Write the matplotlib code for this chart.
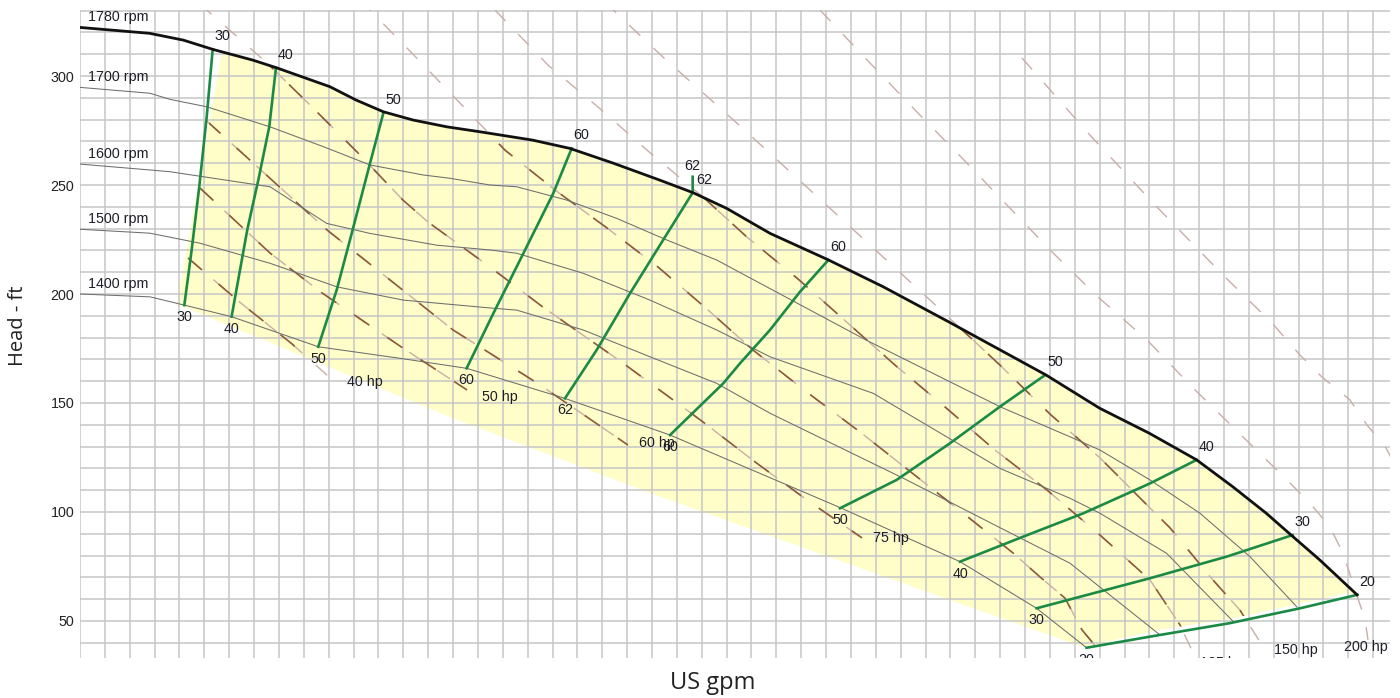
import numpy as np
import matplotlib
matplotlib.use("Agg")
import matplotlib.pyplot as plt
from matplotlib.patches import Polygon

# ---------------- data (US gpm, ft) ----------------
# impeller speed curves
q1780 = [0, 56, 83, 107, 139, 158, 201, 222, 244, 268, 295, 322, 364, 394, 429, 466, 493,
         520, 555, 602, 646, 700, 777, 820, 860, 898, 927, 954, 974, 997, 1027]
h1780 = [322.3, 319.6, 316.5, 312.2, 307.3, 303.8, 295.1, 289.0, 283.6, 279.8, 276.7, 274.4,
         270.6, 266.8, 260.0, 252.3, 246.5, 239.3, 227.8, 215.6, 203.3, 186.8, 162.8, 147.6,
         136.1, 123.9, 111.6, 99.4, 89.4, 78.0, 62.0]
q1700 = [0, 56.3, 72.4, 101.9, 152.8, 195.7, 233.2, 276.1, 297.5, 329.7, 351.2, 391.4, 431.6,
         471.8, 512.0, 552.2, 632.1, 739.8, 796.1, 820.3, 860.5, 900.7, 940.9, 978.7]
h1700 = [294.8, 292.1, 289.3, 285.9, 276.7, 267.6, 259.2, 254.6, 253.1, 250.0, 249.2, 243.1,
         234.7, 224.8, 215.6, 203.3, 178.9, 148.3, 134.5, 128.4, 114.7, 99.4, 79.5, 56.4]
q1600 = [0, 56.3, 72.4, 152.8, 198.4, 233.2, 286.9, 329.7, 351.2, 404.7, 458.4, 512.0, 554.9,
         638.0, 739.8, 796.1, 820.3, 873.9, 927.5]
h1600 = [259.6, 256.9, 256.1, 249.2, 232.4, 227.8, 222.4, 220.2, 218.7, 209.5, 197.2, 183.5,
         171.2, 154.4, 120.0, 106.3, 99.4, 81.0, 49.7]
q1500 = [0, 56.3, 96.5, 152.8, 206.4, 260.0, 329.7, 351.2, 404.7, 458.4, 512.0, 554.9, 664.8,
         739.8, 796.1, 868.5]
h1500 = [229.7, 227.9, 223.3, 214.1, 203.3, 197.2, 193.6, 192.6, 183.5, 171.2, 159.0, 145.3,
         114.7, 92.8, 76.5, 43.6]
q1400 = [0, 56.3, 83.9, 121.9, 191.6, 257.3, 311.0, 390.0, 474.5, 612.5, 707.7, 769.3, 809.5]
h1400 = [200.0, 198.7, 194.9, 189.6, 175.8, 170.5, 165.9, 152.1, 135.3, 101.7, 77.2, 55.8, 37.7]
speed_labels = ["1780 rpm", "1700 rpm", "1600 rpm", "1500 rpm", "1400 rpm"]

# iso-efficiency lines (%), listed from the top speed curve downwards
eff_labels = ["30", "40", "50", "60", "62", "60", "50", "40", "30", "20"]
eff_q = [
    [106.7, 101.9, 95.9, 89.8, 83.9],
    [157.6, 152.2, 143.4, 134.5, 121.9],
    [243.9, 233.2, 218.5, 206.4, 191.6],
    [395.4, 380.6, 355.2, 332.4, 310.9],
    [492.7, 492.7, 469.0, 442.3, 415.5, 390.0],
    [601.8, 579.0, 554.9, 530.8, 517.3, 474.5],
    [776.1, 739.8, 699.6, 656.7, 611.2],
    [898.0, 860.5, 806.9, 758.6, 707.7],
    [975.2, 922.1, 860.5, 769.3],
    [1027.2, 981.1, 924.8, 860.5, 809.5],
]
eff_h = [
    [312.2, 281.3, 249.2, 220.2, 194.9],
    [303.8, 276.7, 252.3, 229.4, 189.6],
    [282.9, 259.9, 227.8, 201.8, 175.8],
    [266.8, 246.2, 217.1, 191.1, 165.9],
    [253.8, 246.5, 224.8, 200.3, 174.3, 152.1],
    [215.6, 201.0, 183.5, 168.2, 159.0, 135.3],
    [162.8, 148.3, 131.5, 114.7, 101.7],
    [123.9, 113.1, 99.4, 88.7, 77.2],
    [89.4, 79.5, 69.6, 55.8],
    [62.0, 55.8, 49.0, 42.8, 37.7],
]

# iso-power lines (hp)
hp_labels = ["40 hp", "50 hp", "60 hp", "75 hp", "100 hp", "125 hp", "150 hp", "200 hp", "250 hp"]
hp_q = [
    [86.9, 130.3, 170.5, 199.4],
    [96.5, 152.8, 194.6, 259.7, 311.2],
    [102.1, 198.6, 300.0, 367.5, 440.7],
    [96.5, 150.4, 186.6, 223.6, 259.7, 279.9, 329.7, 372.3, 436.7, 501.0, 542.8, 584.6, 628.9],
    [225.2, 267.0, 303.2, 341.8, 382.0, 423.8, 464.8, 505.0, 541.2, 585.4, 627.3, 669.1, 710.1,
     750.3, 772.0, 792.1, 805.8, 825.9],
    [333.7, 376.4, 416.6, 456.0, 501.0, 536.4, 576.6, 596.7, 655.4, 695.6, 735.8, 777.6, 820.3,
     860.5, 884.6, 896.7],
    [422.2, 468.8, 528.3, 585.4, 645.8, 683.6, 739.8, 780.1, 820.3, 856.5, 876.6, 911.1, 932.8,
     950.5],
    [595.1, 635.3, 673.1, 709.3, 745.5, 781.7, 818.7, 858.1, 895.1, 970.6, 989.1, 1005.2,
     1015.6, 1023.7, 1033.4, 1035.8],
    [757.5, 812.2, 866.1, 920.8, 958.6, 981.1, 998.8, 1021.3, 1035.0, 1050.3, 1061.5],
]
hp_h = [
    [216.5, 195.4, 177.1, 162.4],
    [248.6, 218.8, 200.5, 175.2, 156.0],
    [279.3, 229.4, 183.5, 159.2, 130.7],
    [333.0, 306.0, 285.8, 264.7, 243.1, 233.0, 212.4, 194.0, 168.3, 141.3, 123.0, 105.5, 88.1],
    [334.9, 310.5, 289.0, 266.0, 247.7, 230.3, 212.4, 192.7, 174.3, 154.6, 136.7, 117.9, 99.5,
     81.2, 70.2, 60.5, 45.9, 32.1],
    [330.3, 305.0, 285.8, 266.0, 244.5, 226.1, 207.3, 197.2, 167.4, 148.2, 128.4, 110.1, 89.4,
     68.8, 48.2, 33.5],
    [333.9, 308.7, 278.4, 248.6, 217.0, 197.2, 167.4, 144.9, 124.8, 104.1, 92.7, 68.8, 55.0,
     39.0],
    [330.3, 306.0, 283.5, 262.4, 240.8, 219.3, 198.6, 178.9, 156.9, 114.7, 104.1, 93.1, 81.2,
     67.4, 50.5, 41.3],
    [308.3, 272.9, 239.9, 207.8, 186.7, 172.0, 161.9, 151.4, 139.9, 129.4, 117.0],
]

# shaded operating region: upper-left corner, then lower boundary (right to left)
region_corner = (114.2, 311.5)
region_low_q = [1018.6, 927.5, 868.5, 806.6, 699.6, 458.4, 297.5, 78.0]
region_low_h = [62.7, 51.2, 45.9, 38.1, 59.6, 108.7, 143.6, 195.4]

y_ticks = [50, 100, 150, 200, 250, 300]

# ---------------- styling ----------------
W, H = 1400, 698
fig = plt.figure(figsize=(W / 100, H / 100), dpi=100)
ax = fig.add_axes([80 / W, 1 - 658 / H, 1310 / W, 648 / H])
ax.set_xlim(0, 1053.5)
ax.set_ylim(33.0, 330.3)

small = dict(family="Liberation Sans", size=10.3, color="#1e1e28")
grid_c = "#c6c6c6"
yellow = "#fffdc8"
green = "#1b8a45"
dash_dark = "#8c5a3a"
dash_light = "#c8aea6"

for s in ax.spines.values():
    s.set_visible(False)
ax.set_xticks(np.arange(0, 1054, 20))
ax.set_xticklabels([])
ax.set_yticks(y_ticks)
ax.set_yticks(np.arange(40, 331, 10), minor=True)
ax.tick_params(which="both", length=0)
ax.tick_params(axis="y", pad=4, labelsize=10.3, labelcolor="#222222")
for lab in ax.get_yticklabels():
    lab.set_family("Liberation Sans")
ax.set_axisbelow(True)
ax.grid(True, which="both", color=grid_c, linewidth=1.1)

# shaded region
q_top = np.asarray(q1780)
h_top = np.asarray(h1780)
m = q_top >= region_corner[0]
poly_x = [region_corner[0]] + list(q_top[m]) + region_low_q
poly_y = [region_corner[1]] + list(h_top[m]) + region_low_h
region = Polygon(np.column_stack([poly_x, poly_y]), closed=True,
                 facecolor=yellow, edgecolor="none", zorder=0.2)
ax.add_patch(region)

# power lines: light everywhere, darker inside region
dash = (0, (11, 13))
for q, h in zip(hp_q, hp_h):
    ax.plot(q, h, color=dash_light, lw=1.0, linestyle=dash, zorder=2)
    ln, = ax.plot(q, h, color=dash_dark, lw=1.2, linestyle=dash, zorder=2.1)
    ln.set_clip_path(region)
hp_offsets = [(37, -6), (33, -7), (29, 2), (29, 0), (30, -6), (27, -6), (34, -5), (-2, -7), (30, -6)]
for lab, q, h, off in zip(hp_labels, hp_q, hp_h, hp_offsets):
    ax.annotate(lab, (q[-1], h[-1]), xytext=off, textcoords="offset pixels",
                ha="center", va="center", clip_on=True, zorder=5, **small)

# speed curves
speeds_q = [q1780, q1700, q1600, q1500, q1400]
speeds_h = [h1780, h1700, h1600, h1500, h1400]
for i, (q, h, lab) in enumerate(zip(speeds_q, speeds_h, speed_labels)):
    if i == 0:
        ax.plot(q, h, color="#111111", lw=2.0, zorder=4, solid_joinstyle="round")
    else:
        ax.plot(q, h, color="#6e6e6e", lw=0.75, zorder=3, solid_joinstyle="round")
    ax.annotate(lab, (q[0], h[0]), xytext=(8, 10), textcoords="offset pixels",
                ha="left", va="center", zorder=5, **small)

# efficiency lines
for k, (lab, q, h) in enumerate(zip(eff_labels, eff_q, eff_h)):
    ax.plot(q, h, color=green, lw=1.9, zorder=3.5, solid_joinstyle="round")
    if lab == "62":
        ax.annotate(lab, (q[0], h[0]), xytext=(0, 11), textcoords="offset pixels",
                    ha="center", va="center", zorder=5, **small)
        ax.annotate(lab, (q[1], h[1]), xytext=(12, 13), textcoords="offset pixels",
                    ha="center", va="center", zorder=5, **small)
    else:
        ax.annotate(lab, (q[0], h[0]), xytext=(10, 13), textcoords="offset pixels",
                    ha="center", va="center", zorder=5, **small)
    ax.annotate(lab, (q[-1], h[-1]), xytext=(0, -12), textcoords="offset pixels",
                ha="center", va="center", clip_on=True, zorder=5, **small)

fig.text(713 / W, 1 - 683 / H, "US gpm", ha="center", va="center",
         family="Open Sans", size=17, color="#222222")
fig.text(18 / W, 1 - 326 / H, "Head - ft", ha="center", va="center", rotation=90,
         family="Open Sans", size=14.5, color="#222222")

fig.savefig("out.png", dpi=100)
